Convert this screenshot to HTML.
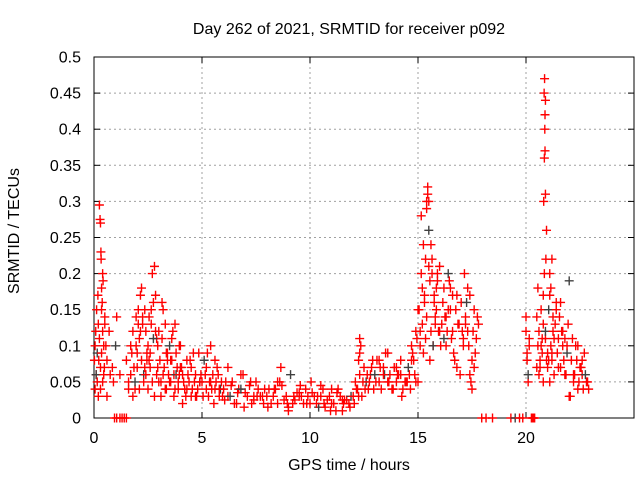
<!DOCTYPE html>
<html><head><meta charset="utf-8"><style>
html,body{margin:0;padding:0;background:#fff;}
svg{display:block;font-family:"Liberation Sans",sans-serif;}
</style></head><body>
<svg id="chart" width="640" height="480">
<rect width="640" height="480" fill="#fff"/>
<g id="grid"></g>
<g id="axes"></g>
<g id="marks"></g>
<text x="349" y="34" font-size="16" text-anchor="middle">Day 262 of 2021, SRMTID for receiver p092</text>
<text x="349" y="470" font-size="16" text-anchor="middle">GPS time / hours</text>
<text transform="translate(19,231) rotate(-90)" font-size="16" text-anchor="middle">SRMTID / TECUs</text>
</svg>
<script>
const xTicks=[0,5,10,15,20,25];
const yTicks=[0,0.05,0.1,0.15,0.2,0.25,0.3,0.35,0.4,0.45,0.5];
const yTickLabels=["0","0.05","0.1","0.15","0.2","0.25","0.3","0.35","0.4","0.45","0.5"];
const hours=[0.02,0.05,0.08,0.1,0.12,0.15,0.18,0.2,0.22,0.25,0.28,0.3,0.32,0.33,0.35,0.38,0.4,0.42,0.45,0.48,0.5,0.05,0.1,0.15,0.2,0.25,0.3,0.35,0.4,0.45,0.3,0.35,0.4,0.5,
0.55,0.6,0.7,0.75,0.9,1.0,1.05,0.6,1.2,1.5,1.6,1.7,1.8,1.85,1.9,1.95,2.0,2.05,2.1,2.15,2.2,2.25,2.3,2.35,2.4,2.45,2.5,2.55,2.6,2.65,2.7,2.75,2.8,2.85,2.9,2.95,
1.6,1.7,1.8,1.9,2.0,2.1,2.2,2.3,2.4,2.5,2.6,2.7,2.8,2.9,3.0,1.75,1.95,2.15,2.35,2.55,2.75,2.95,2.05,2.25,2.45,2.65,2.85,
3.0,3.05,3.1,3.15,3.2,3.25,3.3,3.35,3.4,3.45,3.5,3.55,3.6,3.65,3.7,3.75,3.8,3.85,3.9,3.95,3.1,3.2,3.3,3.4,3.5,3.6,3.7,3.8,3.9,4.0,3.15,3.35,3.55,3.75,3.95,
4.0,4.1,4.2,4.3,4.4,4.5,4.6,4.7,4.8,4.9,4.05,4.15,4.25,4.35,4.45,4.55,4.65,4.75,4.85,4.95,4.1,4.3,4.5,4.7,4.9,
5.0,5.1,5.2,5.3,5.4,5.5,5.6,5.7,5.8,5.9,5.05,5.15,5.25,5.35,5.45,5.55,5.65,5.75,5.85,5.95,5.2,5.4,5.6,5.8,
6.0,6.2,6.4,6.6,6.8,7.0,7.2,7.4,7.6,7.8,6.1,6.3,6.5,6.7,6.9,7.1,7.3,7.5,7.7,7.9,6.05,6.35,6.65,6.95,7.25,7.55,7.85,6.2,6.8,7.4,
8.0,8.2,8.4,8.6,8.8,9.0,9.2,9.4,9.6,9.8,8.1,8.3,8.5,8.7,8.9,9.1,9.3,9.5,9.7,9.9,8.05,8.35,8.65,8.95,9.25,9.55,9.85,8.5,9.0,9.5,
10.0,10.2,10.4,10.6,10.8,11.0,11.2,11.4,11.6,11.8,10.1,10.3,10.5,10.7,10.9,11.1,11.3,11.5,11.7,11.9,10.05,10.35,10.65,10.95,11.25,11.55,11.85,10.5,11.0,11.5,
12.0,12.1,12.2,12.3,12.4,12.5,12.6,12.7,12.8,12.9,12.05,12.15,12.25,12.35,12.45,12.55,12.65,12.75,12.85,12.95,12.3,12.3,12.25,
13.0,13.1,13.2,13.3,13.4,13.5,13.6,13.7,13.8,13.9,14.0,14.1,14.2,14.3,14.4,13.05,13.25,13.45,13.65,13.85,14.05,14.25,14.45,13.2,13.4,13.6,13.8,14.0,14.2,
14.5,14.6,14.7,14.8,14.9,14.55,14.65,14.75,14.85,14.95,14.7,14.9,
15.0,15.05,15.1,15.15,15.2,15.25,15.3,15.35,15.4,15.45,15.5,15.55,15.6,15.65,15.7,15.75,15.8,15.85,15.9,15.95,15.0,15.1,15.2,15.3,15.4,15.5,15.6,15.7,15.8,15.9,15.35,15.4,15.45,15.5,15.15,15.25,15.55,15.65,15.75,15.85,
16.0,16.1,16.2,16.3,16.4,16.5,16.6,16.7,16.8,16.9,16.05,16.15,16.25,16.35,16.45,16.55,16.65,16.75,16.85,16.95,16.0,16.2,16.4,16.6,16.8,16.3,16.5,
17.0,17.1,17.2,17.3,17.4,17.5,17.6,17.7,17.8,17.05,17.15,17.25,17.35,17.45,17.55,17.65,17.75,17.1,17.3,17.5,17.2,17.4,17.6,
20.0,20.05,20.1,20.15,20.0,20.1,20.05,20.15,
20.5,20.55,20.6,20.65,20.7,20.75,20.8,20.85,20.9,20.95,20.5,20.6,20.7,20.8,20.9,20.8,20.82,20.85,20.88,20.9,20.86,20.84,20.87,20.88,20.9,20.92,20.95,20.55,20.65,20.75,
21.0,21.05,21.1,21.15,21.2,21.25,21.3,21.35,21.4,21.45,21.5,21.55,21.6,21.65,21.7,21.75,21.8,21.85,21.9,21.95,21.0,21.1,21.2,21.3,21.4,21.5,21.6,21.7,21.8,21.9,21.05,21.15,21.25,21.1,21.2,
22.0,22.1,22.2,22.3,22.4,22.5,22.6,22.7,22.8,22.9,22.05,22.15,22.25,22.35,22.45,22.55,22.65,22.75,22.85,22.0,22.2,22.4,22.6,
0.85,0.95,1.05,1.2,1.3,1.4,1.5,17.95,18.15,18.45,19.3,19.5,19.7,19.85,20.25,20.3,20.35,20.4];
const srmtid=[0.08,0.1,0.12,0.06,0.15,0.09,0.17,0.13,0.08,0.295,0.275,0.27,0.23,0.22,0.18,0.16,0.12,0.19,0.1,0.07,0.14,0.04,0.06,0.05,0.03,0.11,0.07,0.09,0.05,0.06,0.04,0.15,0.2,0.13,
0.1,0.08,0.12,0.06,0.05,0.1,0.14,0.03,0.06,0.08,0.05,0.1,0.12,0.07,0.04,0.14,0.09,0.15,0.11,0.17,0.18,0.13,0.06,0.15,0.12,0.08,0.1,0.14,0.09,0.13,0.2,0.16,0.21,0.12,0.11,0.07,
0.04,0.06,0.03,0.05,0.07,0.04,0.08,0.05,0.06,0.04,0.07,0.05,0.03,0.06,0.05,0.09,0.1,0.12,0.07,0.08,0.11,0.1,0.13,0.14,0.09,0.15,0.17,
0.12,0.08,0.05,0.11,0.15,0.07,0.13,0.04,0.09,0.06,0.1,0.05,0.08,0.12,0.06,0.04,0.09,0.07,0.05,0.1,0.03,0.06,0.04,0.08,0.05,0.11,0.03,0.06,0.04,0.07,0.16,0.09,0.08,0.13,0.06,
0.1,0.06,0.04,0.08,0.05,0.03,0.09,0.06,0.04,0.05,0.07,0.05,0.03,0.06,0.08,0.04,0.05,0.03,0.09,0.06,0.02,0.04,0.07,0.03,0.05,
0.05,0.08,0.04,0.03,0.1,0.06,0.04,0.07,0.03,0.05,0.03,0.06,0.09,0.05,0.04,0.02,0.05,0.06,0.04,0.03,0.07,0.05,0.08,0.04,
0.04,0.03,0.05,0.02,0.06,0.035,0.045,0.025,0.04,0.03,0.05,0.03,0.02,0.04,0.06,0.03,0.02,0.05,0.03,0.04,0.025,0.045,0.035,0.015,0.05,0.03,0.02,0.07,0.04,0.03,
0.03,0.02,0.04,0.05,0.025,0.015,0.02,0.035,0.03,0.04,0.04,0.03,0.02,0.045,0.03,0.06,0.025,0.035,0.02,0.03,0.015,0.04,0.07,0.02,0.03,0.045,0.02,0.05,0.01,0.03,
0.02,0.03,0.015,0.04,0.025,0.02,0.01,0.03,0.025,0.02,0.035,0.02,0.045,0.015,0.03,0.02,0.04,0.01,0.025,0.03,0.05,0.03,0.02,0.01,0.035,0.02,0.015,0.03,0.04,0.025,
0.03,0.05,0.04,0.06,0.03,0.07,0.05,0.04,0.06,0.08,0.02,0.04,0.03,0.1,0.05,0.04,0.06,0.05,0.07,0.04,0.09,0.11,0.08,
0.06,0.08,0.05,0.04,0.07,0.09,0.05,0.06,0.04,0.07,0.05,0.06,0.08,0.04,0.05,0.05,0.07,0.06,0.05,0.04,0.06,0.03,0.05,0.08,0.06,0.09,0.04,0.07,0.06,0.05,
0.06,0.1,0.08,0.05,0.07,0.04,0.09,0.06,0.11,0.08,0.12,0.05,
0.15,0.12,0.2,0.18,0.24,0.16,0.22,0.3,0.32,0.26,0.19,0.12,0.22,0.1,0.16,0.14,0.18,0.2,0.12,0.15,0.1,0.13,0.17,0.14,0.21,0.24,0.1,0.13,0.19,0.11,0.29,0.31,0.3,0.28,0.09,0.08,0.2,0.17,0.15,0.21,
0.13,0.18,0.1,0.2,0.15,0.12,0.08,0.17,0.13,0.1,0.16,0.14,0.12,0.19,0.11,0.09,0.15,0.13,0.06,0.12,0.11,0.15,0.17,0.07,0.14,0.18,0.16,
0.1,0.14,0.12,0.17,0.08,0.15,0.11,0.13,0.12,0.2,0.16,0.1,0.05,0.12,0.09,0.14,0.11,0.18,0.04,0.13,0.06,0.07,0.14,
0.08,0.05,0.1,0.12,0.06,0.09,0.11,0.07,
0.1,0.12,0.07,0.15,0.09,0.13,0.2,0.11,0.08,0.14,0.06,0.1,0.05,0.12,0.17,0.3,0.36,0.42,0.44,0.47,0.45,0.4,0.37,0.31,0.22,0.26,0.18,0.08,0.11,0.09,
0.15,0.2,0.1,0.08,0.12,0.06,0.13,0.16,0.09,0.11,0.14,0.07,0.12,0.1,0.08,0.11,0.06,0.09,0.13,0.07,0.05,0.09,0.11,0.15,0.07,0.16,0.12,0.06,0.1,0.08,0.18,0.14,0.17,0.22,0.19,
0.08,0.05,0.1,0.04,0.07,0.06,0.09,0.05,0.04,0.03,0.11,0.06,0.08,0.05,0.07,0.04,0.06,0.05,0.03,0.06,0.1,0.08,0.07,
0,0,0,0,0,0,0,0,0,0,0,0,0,0,0,0,0,0];
const x0=94,x1=634,y0=418,y1=57;
function xScale(t){return x0+(t-0)/(25-0)*(x1-x0);}
function yScale(v){return y0-(v-0)/(0.5-0)*(y0-y1);}
const NS="http://www.w3.org/2000/svg";
const grid=document.getElementById('grid'),axes=document.getElementById('axes'),marks=document.getElementById('marks');
function mk(tag,attrs,parent){const e=document.createElementNS(NS,tag);for(const k in attrs)e.setAttribute(k,attrs[k]);parent.appendChild(e);return e;}
xTicks.forEach((t,i)=>{
  const x=xScale(t);
  if(t>0&&t<25){const g=mk('line',{x1:x,y1:y1,x2:x,y2:y0,stroke:'#a0a0a0','stroke-dasharray':'2,3'},grid);
  
  }
  const tk=mk('line',{x1:x,y1:y0,x2:x,y2:y0-6,stroke:'#000'},axes);
  
  
  const tk2=mk('line',{x1:x,y1:y1,x2:x,y2:y1+6,stroke:'#000'},axes);
  
  
  if(t<25){const l=mk('text',{x:x,y:y0+25,'font-size':16,'text-anchor':'middle'},axes);l.textContent=t;
  
  }
});
yTicks.forEach((v,i)=>{
  const y=yScale(v);
  if(v>0&&v<0.5){const g=mk('line',{x1:x0,y1:y,x2:x1,y2:y,stroke:'#a0a0a0','stroke-dasharray':'2,3'},grid);
  
  }
  const tk=mk('line',{x1:x0,y1:y,x2:x0+6,y2:y,stroke:'#000'},axes);
  
  
  const tk2=mk('line',{x1:x1,y1:y,x2:x1-6,y2:y,stroke:'#000'},axes);
  
  
  const l=mk('text',{x:x0-13,y:y+5.5,'font-size':16,'text-anchor':'end'},axes);l.textContent=yTickLabels[i];
  
  
});
const frame=mk('rect',{x:x0,y:y1,width:x1-x0,height:y0-y1,fill:'none',stroke:'#000'},axes);


hours.forEach((t,i)=>{
  const x=xScale(t),y=yScale(srmtid[i]);
  const col=(i%17===5)?'#404040':'#ff0000';
  const p=mk('path',{d:`M${x-4.5},${y}H${x+4.5}M${x},${y-4.5}V${y+4.5}`,stroke:col,'stroke-width':1.4,fill:'none'},marks);
  
  
});
</script>
</body></html>
